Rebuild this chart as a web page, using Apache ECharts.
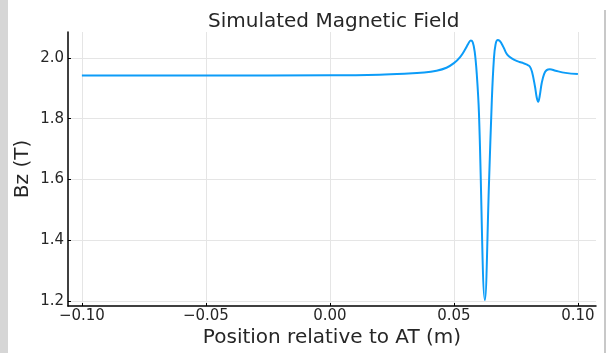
<!DOCTYPE html>
<html>
<head>
<meta charset="utf-8">
<title>Simulated Magnetic Field</title>
<script src="https://cdn.jsdelivr.net/npm/echarts@6/dist/echarts.min.js"></script>
<style>
  html, body { margin: 0; padding: 0; background: #fff; }
  #chart { width: 615px; height: 353px; }
</style>
</head>
<body>
<div id="chart"></div>
<script>
// position along the beam (m) and simulated Bz (T)
var positions = [-0.1, -0.05, 0.0, 0.02, 0.03, 0.038, 0.043, 0.047, 0.050, 0.0525, 0.0545, 0.0558, 0.0568,
  0.0576, 0.0584, 0.0592, 0.0601, 0.0625, 0.0642, 0.0653, 0.0661, 0.0668, 0.0677,
  0.0685, 0.0692, 0.0702, 0.0712, 0.0723, 0.0733, 0.0746, 0.0765, 0.078, 0.0795, 0.0806, 0.0815,
  0.0827, 0.0834, 0.084, 0.0846, 0.0854, 0.0864, 0.0874, 0.0887, 0.091, 0.095, 0.1];
var bz = [1.942, 1.942, 1.943, 1.945, 1.948, 1.952, 1.958, 1.968, 1.983, 2.003, 2.028, 2.047, 2.058,
  2.052, 2.02, 1.95, 1.82, 1.203, 1.60, 1.862, 1.993, 2.045, 2.059,
  2.056, 2.048, 2.032, 2.015, 2.005, 1.999, 1.993, 1.987, 1.983, 1.978, 1.972, 1.955,
  1.906, 1.870, 1.856, 1.875, 1.917, 1.948, 1.960, 1.963, 1.958, 1.951, 1.947];

var xTicks = [-0.1, -0.05, 0, 0.05, 0.1];
var yTicks = [1.2, 1.4, 1.6, 1.8, 2.0];

var chart = echarts.init(document.getElementById('chart'));

var points = positions.map(function (p, i) { return [p, bz[i]]; });
var txt = '#262626';
var font = 'DejaVu Sans';

var option = {
  animation: false,
  title: {
    text: 'Simulated Magnetic Field',
    left: 203,
    top: 7,
    textStyle: { fontFamily: font, fontSize: 20, fontWeight: 'normal', color: txt }
  },
  grid: { left: 68, right: 19, top: 32, bottom: 47 },
  xAxis: {
    type: 'value',
    min: -0.1056,
    max: 0.1073,
    name: 'Position relative to AT (m)',
    nameLocation: 'middle',
    nameGap: 22,
    nameMoveOverlap: false,
    nameTextStyle: { fontFamily: font, fontSize: 20, color: txt },
    axisLine: { onZero: false, lineStyle: { color: '#000', width: 1.5 } },
    axisTick: { inside: true, length: 3, customValues: xTicks, lineStyle: { color: '#000' } },
    axisLabel: {
      customValues: xTicks,
      fontFamily: font, fontSize: 15, color: txt, margin: 3,
      formatter: function (v) { return v.toFixed(2).replace('-', '\u2212'); }
    },
    splitLine: { show: true, lineStyle: { color: '#e5e5e5', width: 1 } }
  },
  yAxis: {
    type: 'value',
    min: 1.1835,
    max: 2.0856,
    name: 'Bz (T)',
    nameLocation: 'middle',
    nameGap: 35,
    nameMoveOverlap: false,
    nameTextStyle: { fontFamily: font, fontSize: 20, color: txt },
    axisLine: { show: true, onZero: false, lineStyle: { color: '#000', width: 1.5 } },
    axisTick: { show: true, inside: true, length: 3, customValues: yTicks, lineStyle: { color: '#000' } },
    axisLabel: {
      customValues: yTicks,
      fontFamily: font, fontSize: 15, color: txt, margin: 4,
      formatter: function (v) { return v.toFixed(1); }
    },
    splitLine: { show: true, lineStyle: { color: '#e5e5e5', width: 1 } }
  },
  series: [{
    type: 'line',
    data: points,
    showSymbol: false,
    smooth: 0.4,
    lineStyle: { color: '#0c9cf8', width: 2 },
    clip: true
  }],
  graphic: [
    { type: 'rect', left: 0, top: 0, shape: { width: 8, height: 353 }, style: { fill: '#d6d6d6' } },
    { type: 'rect', left: 604, top: 10, shape: { width: 2, height: 343 }, style: { fill: '#c8c8c8' } }
  ]
};

chart.setOption(option);
</script>
</body>
</html>
